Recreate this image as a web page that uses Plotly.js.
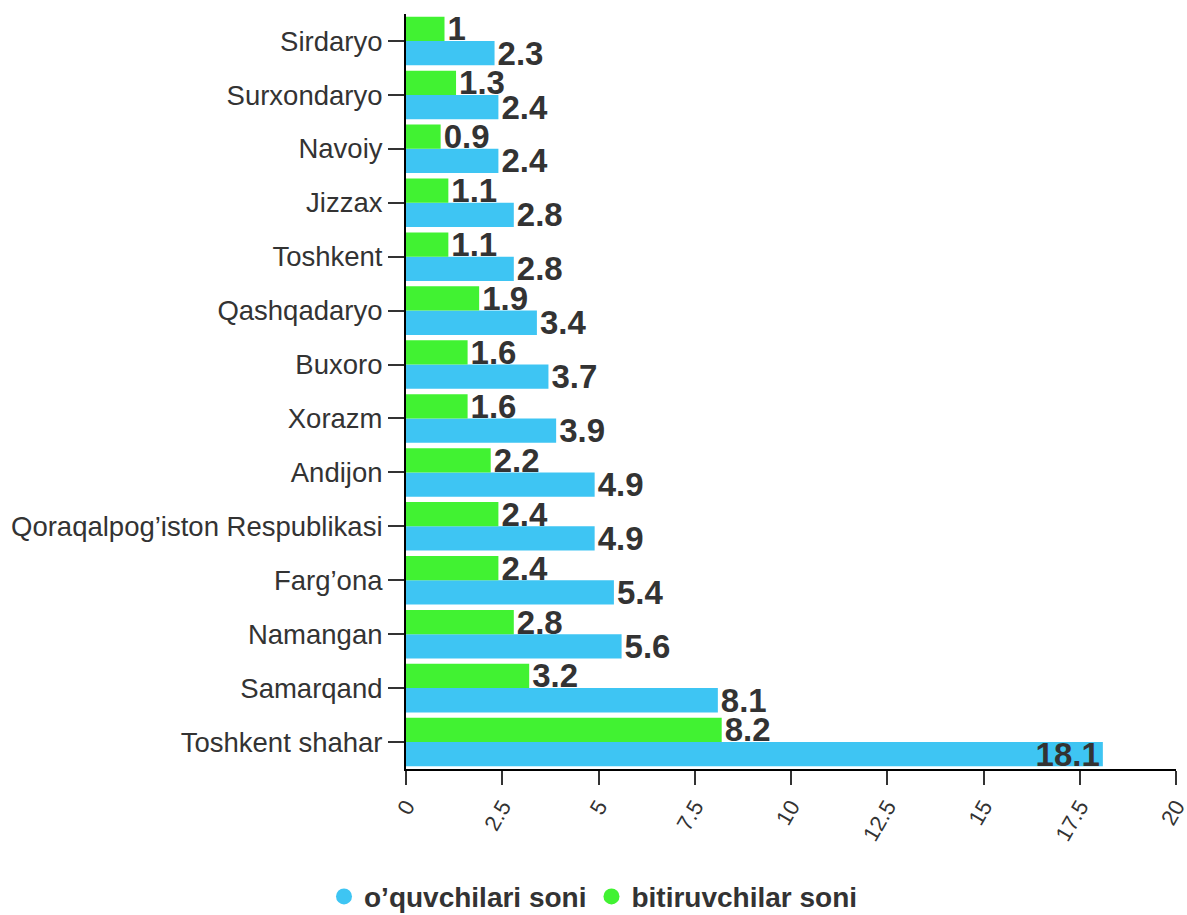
<!DOCTYPE html>
<html>
<head>
<meta charset="utf-8">
<script src="https://cdn.plot.ly/plotly-3.0.1.min.js"></script>
<style>html,body{margin:0;padding:0;background:#fff;}#chart{width:1187px;height:915px;}</style>
</head>
<body>
<div id="chart"></div>
<script>
// Categories listed bottom-to-top (category axis starts at bottom)
const categories = [
  "Toshkent shahar", "Samarqand", "Namangan", "Farg’ona",
  "Qoraqalpog’iston Respublikasi", "Andijon", "Xorazm", "Buxoro",
  "Qashqadaryo", "Toshkent", "Jizzax", "Navoiy", "Surxondaryo", "Sirdaryo"
];
const students = [18.1, 8.1, 5.6, 5.4, 4.9, 4.9, 3.9, 3.7, 3.4, 2.8, 2.8, 2.4, 2.4, 2.3];
const graduates = [8.2, 3.2, 2.8, 2.4, 2.4, 2.2, 1.6, 1.6, 1.9, 1.1, 1.1, 0.9, 1.3, 1.0];
const seriesNames = ["o’quvchilari soni", "bitiruvchilar soni"];
const xTicks = [0, 2.5, 5, 7.5, 10, 12.5, 15, 17.5, 20];

const BLUE = "#3ec5f3";
const GREEN = "#41f232";
const FONT = "Liberation Sans, Arial, sans-serif";
const labelFont = {family: FONT, size: 33, color: "#333333", weight: "bold"};

function positions(vals) {
  // value text goes inside only when the bar is long enough for it
  return vals.map(v => v > 15 ? "inside" : "outside");
}

const traces = [
  {
    type: "bar", orientation: "h", name: seriesNames[0],
    y: categories, x: students,
    marker: {color: BLUE, line: {width: 0}},
    text: students.map(v => String(v)),
    textposition: positions(students),
    insidetextanchor: "end",
    constraintext: "none",
    cliponaxis: false,
    textfont: labelFont, insidetextfont: labelFont, outsidetextfont: labelFont,
    showlegend: false, hoverinfo: "x+y"
  },
  {
    type: "bar", orientation: "h", name: seriesNames[1],
    y: categories, x: graduates,
    marker: {color: GREEN, line: {width: 0}},
    text: graduates.map(v => String(v)),
    textposition: positions(graduates),
    insidetextanchor: "end",
    constraintext: "none",
    cliponaxis: false,
    textfont: labelFont, insidetextfont: labelFont, outsidetextfont: labelFont,
    showlegend: false, hoverinfo: "x+y"
  },
  {
    type: "scatter", mode: "markers", name: seriesNames[0],
    x: [null], y: [null], marker: {color: BLUE, size: 22, symbol: "circle"},
    showlegend: true, hoverinfo: "skip"
  },
  {
    type: "scatter", mode: "markers", name: seriesNames[1],
    x: [null], y: [null], marker: {color: GREEN, size: 22, symbol: "circle"},
    showlegend: true, hoverinfo: "skip"
  }
];

const layout = {
  width: 1187, height: 915,
  margin: {l: 406, r: 11, t: 14, b: 146},
  paper_bgcolor: "#ffffff", plot_bgcolor: "#ffffff",
  font: {family: FONT, color: "#333333"},
  barmode: "group", bargap: 0.1, bargroupgap: 0,
  xaxis: {
    range: [0, 20], tickvals: xTicks, ticktext: xTicks.map(String),
    tickangle: -60, showgrid: false, zeroline: false,
    showline: true, linecolor: "#000000", linewidth: 2,
    ticks: "outside", ticklen: 14, tickwidth: 2, tickcolor: "#333333",
    ticklabeloverflow: "allow",
    tickfont: {family: FONT, size: 22, color: "#333333"}
  },
  yaxis: {
    type: "category", categoryorder: "array", categoryarray: categories,
    showgrid: false, zeroline: false,
    showline: true, linecolor: "#000000", linewidth: 2,
    ticks: "outside", ticklen: 16, tickwidth: 2, tickcolor: "#333333",
    tickfont: {family: FONT, size: 27.5, color: "#333333"}
  },
  showlegend: true,
  legend: {
    orientation: "h", xref: "container", x: 0.5, xanchor: "center",
    yref: "container", y: 0.02, yanchor: "middle",
    font: {family: FONT, size: 28, color: "#333333", weight: "bold"},
    traceorder: "normal", itemclick: false
  }
};

Plotly.newPlot("chart", traces, layout, {displayModeBar: false, staticPlot: true});
</script>
</body>
</html>
